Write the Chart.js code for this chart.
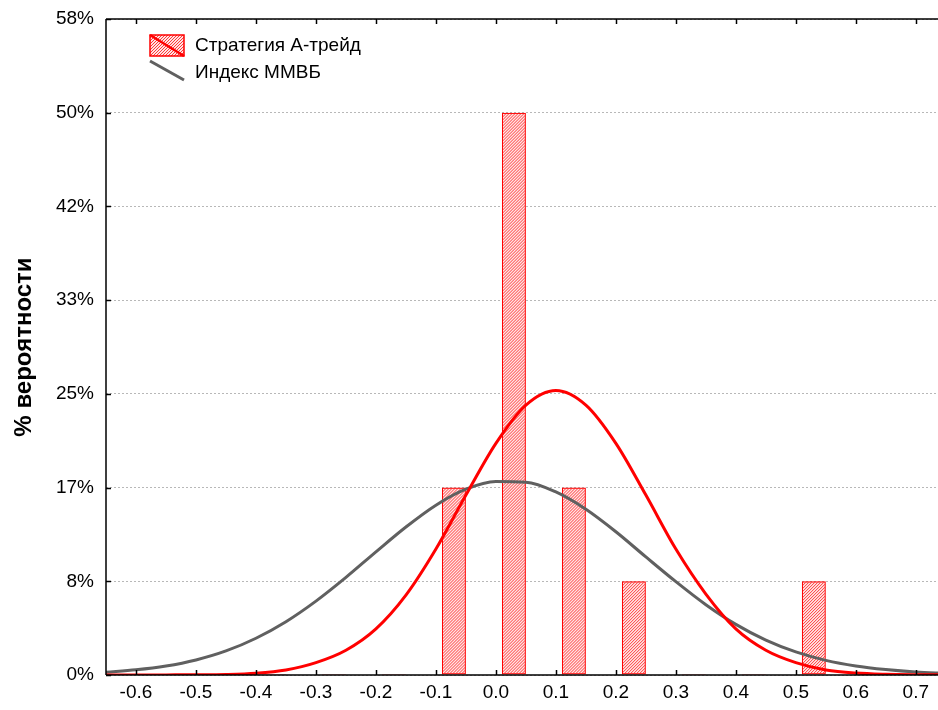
<!DOCTYPE html>
<html>
<head>
<meta charset="utf-8">
<script src="https://cdn.jsdelivr.net/npm/chart.js@4"></script>
<style>
  html, body { margin: 0; padding: 0; background: #fff; }
  #wrap { width: 938px; height: 710px; }
</style>
</head>
<body>
<div id="wrap"><canvas id="chart"></canvas></div>
<script>
// bins of the histogram (centres) and share of cases, %
const binCenters = [-0.57, -0.47, -0.37, -0.27, -0.17, -0.07, 0.03, 0.13, 0.23, 0.33, 0.43, 0.53, 0.63, 0.73];
const binShares = [0, 0, 0, 0, 0, 16.67, 50, 16.67, 8.33, 0, 0, 8.33, 0, 0];

// fitted curves
const curveX = [-0.65, -0.6, -0.55, -0.5, -0.45, -0.4, -0.35, -0.3, -0.25, -0.2, -0.15, -0.1, -0.05, 0,
  0.05, 0.1, 0.15, 0.2, 0.25, 0.3, 0.35, 0.4, 0.45, 0.5, 0.55, 0.6, 0.65, 0.7, 0.75];
const strategyCurve = [0, 0, 0.01, 0.02, 0.05, 0.16, 0.45, 1.1, 2.2, 4.1, 7.1, 11.2, 16.0, 20.6,
  24.0, 25.3, 24.0, 20.6, 16.0, 11.2, 7.2, 4.1, 2.2, 1.1, 0.45, 0.17, 0.06, 0.02, 0.01];
const indexCurve = [0.25, 0.46, 0.8, 1.34, 2.14, 3.27, 4.74, 6.57, 8.68, 10.95, 13.16, 15.1, 16.52, 17.2,
  17.15, 16.28, 14.74, 12.74, 10.5, 8.3, 6.25, 4.5, 3.1, 2.05, 1.3, 0.8, 0.48, 0.26, 0.14];

const xTicks = [-0.6, -0.5, -0.4, -0.3, -0.2, -0.1, 0, 0.1, 0.2, 0.3, 0.4, 0.5, 0.6, 0.7];
const yTicks = [0, 100 / 12, 200 / 12, 25, 400 / 12, 500 / 12, 50, 700 / 12];

const seriesNames = ["Стратегия А-трейд", "Индекс ММВБ"];

const RED = "#ff0000";
const GREY = "#606060";
const FONT = "'Liberation Sans', Arial, sans-serif";

// red diagonal hatching inside a rectangle
function hatchRect(ctx, x0, y0, w, h) {
  ctx.save();
  ctx.beginPath();
  ctx.rect(x0, y0, w, h);
  ctx.clip();
  ctx.fillStyle = "#ffe4e4";
  ctx.fillRect(x0, y0, w, h);
  ctx.strokeStyle = "rgba(255,0,0,0.75)";
  ctx.lineWidth = 1;
  ctx.beginPath();
  for (let k = -h; k < w + h; k += 3) {
    ctx.moveTo(x0 + k, y0 + h);
    ctx.lineTo(x0 + k + h, y0);
  }
  ctx.stroke();
  ctx.restore();
}

const hatchBars = {
  id: "hatchBars",
  afterDatasetDraw(chart, args) {
    if (args.index !== 0) return;
    const ctx = chart.ctx;
    args.meta.data.forEach(bar => {
      const p = bar.getProps(["x", "y", "base", "width"], true);
      const top = Math.min(p.y, p.base), bottom = Math.max(p.y, p.base);
      if (bottom - top < 3) return;
      hatchRect(ctx, p.x - p.width / 2 + 1, top + 1, p.width - 2, bottom - top - 2);
    });
  }
};

// frame with inward ticks, and the legend in the top-left corner
const frame = {
  id: "frame",
  afterDatasetsDraw(chart) {
    const { ctx, chartArea: a, scales } = chart;
    ctx.save();
    ctx.strokeStyle = "#000";
    ctx.lineWidth = 1.5;
    ctx.beginPath();
    ctx.moveTo(a.left, a.top); ctx.lineTo(a.right, a.top);
    ctx.moveTo(a.left, a.top); ctx.lineTo(a.left, a.bottom);
    ctx.moveTo(a.left, a.bottom); ctx.lineTo(a.right, a.bottom);
    xTicks.forEach(v => {
      const px = Math.round(scales.x.getPixelForValue(v)) + 0.5;
      ctx.moveTo(px, a.bottom); ctx.lineTo(px, a.bottom - 5);
      ctx.moveTo(px, a.top); ctx.lineTo(px, a.top + 5);
    });
    yTicks.forEach(v => {
      const py = Math.round(scales.y.getPixelForValue(v)) + 0.5;
      ctx.moveTo(a.left, py); ctx.lineTo(a.left + 5, py);
    });
    ctx.stroke();

    // legend
    hatchRect(ctx, 150, 35, 34, 21);
    ctx.strokeStyle = RED;
    ctx.lineWidth = 1.5;
    ctx.strokeRect(150, 35, 34, 21);
    ctx.lineWidth = 2.5;
    ctx.beginPath();
    ctx.moveTo(150, 35); ctx.lineTo(184, 56);
    ctx.stroke();
    ctx.strokeStyle = GREY;
    ctx.lineWidth = 3;
    ctx.beginPath();
    ctx.moveTo(150, 61); ctx.lineTo(184, 80);
    ctx.stroke();
    ctx.font = "19px " + FONT;
    ctx.textBaseline = "middle";
    ctx.fillStyle = "#000";
    ctx.fillText(seriesNames[0], 195, 46);
    ctx.fillText(seriesNames[1], 195, 73);
    ctx.restore();
  }
};

new Chart(document.getElementById("chart"), {
  plugins: [hatchBars, frame],
  data: {
    datasets: [
      {
        type: "bar",
        label: seriesNames[0],
        data: binCenters.map((x, i) => ({ x: x, y: binShares[i] })),
        backgroundColor: "#ffe4e4",
        borderColor: RED,
        borderWidth: 2,
        borderSkipped: false,
        minBarLength: 1,
        barPercentage: 0.4,
        categoryPercentage: 1,
        grouped: false,
        order: 3,
      },
      {
        type: "line",
        label: seriesNames[1],
        data: curveX.map((x, i) => ({ x: x, y: indexCurve[i] })),
        borderColor: GREY,
        borderWidth: 3,
        pointRadius: 0,
        cubicInterpolationMode: "monotone",
        fill: false,
        order: 2,
      },
      {
        type: "line",
        label: seriesNames[0] + " (норм.)",
        data: curveX.map((x, i) => ({ x: x, y: strategyCurve[i] })),
        borderColor: RED,
        borderWidth: 3,
        pointRadius: 0,
        cubicInterpolationMode: "monotone",
        fill: false,
        order: 1,
      },
    ],
  },
  options: {
    responsive: true,
    maintainAspectRatio: false,
    animation: false,
    layout: { padding: { top: 19, right: 0, left: 0, bottom: 0 } },
    plugins: {
      legend: { display: false },
      tooltip: { enabled: false },
    },
    scales: {
      x: {
        type: "linear",
        min: -0.65,
        max: 0.737,
        offset: false,
        afterBuildTicks: axis => { axis.ticks = xTicks.map(v => ({ value: v })); },
        afterFit: axis => { axis.height = 35; },
        grid: { display: false, drawTicks: false },
        border: { display: false },
        ticks: {
          color: "#000",
          padding: 6,
          maxRotation: 0,
          autoSkip: false,
          font: { family: FONT, size: 19 },
          callback: v => v.toFixed(1),
        },
      },
      y: {
        min: 0,
        max: 700 / 12,
        afterBuildTicks: axis => { axis.ticks = yTicks.map(v => ({ value: v })); },
        afterFit: axis => {
          axis.width = 106;
          axis.paddingTop = 0;
          axis.paddingBottom = 0;
        },
        grid: {
          color: "#b8b8b8",
          lineWidth: 1,
          drawTicks: false,
        },
        border: { display: false, dash: [2, 2] },
        ticks: {
          color: "#000",
          padding: 12,
          font: { family: FONT, size: 19 },
          callback: v => Math.round(v) + "%",
        },
        title: {
          display: true,
          text: "% вероятности",
          color: "#000",
          padding: { top: 10, bottom: 0 },
          font: { family: FONT, size: 24, weight: "bold" },
        },
      },
    },
  },
});
</script>
</body>
</html>
